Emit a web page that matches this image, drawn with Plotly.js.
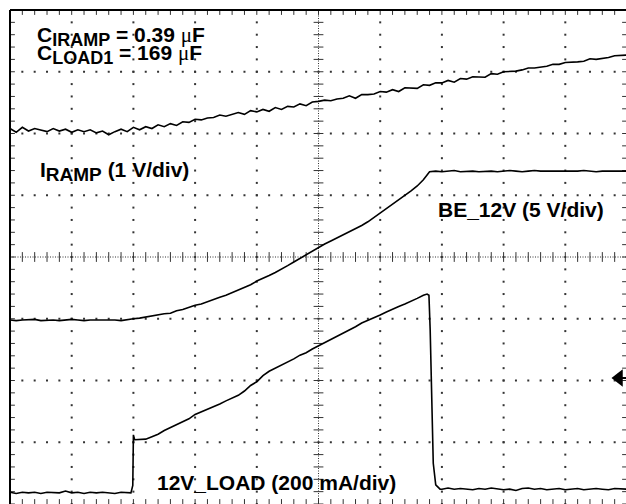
<!DOCTYPE html>
<html>
<head>
<meta charset="utf-8">
<script src="https://cdn.plot.ly/plotly-3.0.1.min.js"></script>
<style>
html,body{margin:0;padding:0;background:#fff;overflow:hidden;}
#chart{width:627px;height:504px;}
</style>
</head>
<body>
<div id="chart"></div>
<script>
// Time base in screen divisions (10 div across), vertical values in divisions (-4..4)
const timeDiv = [0.0,0.1,0.2,0.3,0.4,0.5,0.6,0.7,0.8,0.9,1.0,1.1,1.2,1.3,1.4,1.5,1.6,1.7,1.8,1.9,
  2.0,2.1,2.2,2.3,2.4,2.5,2.6,2.7,2.8,2.9,3.0,3.1,3.2,3.3,3.4,3.5,3.6,3.7,3.8,3.9,
  4.0,4.1,4.2,4.3,4.4,4.5,4.6,4.7,4.8,4.9,5.0,5.1,5.2,5.3,5.4,5.5,5.6,5.7,5.8,5.9,
  6.0,6.1,6.2,6.3,6.4,6.5,6.6,6.7,6.8,6.9,7.0,7.1,7.2,7.3,7.4,7.5,7.6,7.7,7.8,7.9,
  8.0,8.1,8.2,8.3,8.4,8.5,8.6,8.7,8.8,8.9,9.0,9.1,9.2,9.3,9.4,9.5,9.6,9.7,9.8,9.9,10.0];

// I_RAMP trace (1 V/div)
const irampDiv = [2.08,2.02,2.10,2.04,2.08,2.05,2.03,2.08,2.04,2.07,2.02,2.06,2.03,2.06,2.01,2.04,1.98,2.03,2.07,2.03,
  2.10,2.06,2.11,2.08,2.14,2.11,2.16,2.13,2.19,2.18,2.23,2.22,2.25,2.26,2.30,2.28,2.31,2.34,2.31,2.37,
  2.35,2.39,2.36,2.42,2.39,2.44,2.43,2.48,2.45,2.51,2.52,2.54,2.53,2.56,2.57,2.61,2.57,2.63,2.63,2.64,
  2.68,2.67,2.71,2.68,2.74,2.74,2.73,2.79,2.78,2.82,2.82,2.86,2.83,2.89,2.88,2.92,2.92,2.91,2.97,2.96,
  3.00,3.00,3.01,3.03,3.06,3.06,3.07,3.09,3.12,3.12,3.15,3.15,3.16,3.17,3.21,3.20,3.21,3.23,3.26,3.26,3.27];

// BE_12V trace (5 V/div)
const be12Div = [-1.02,-1.03,-1.02,-1.02,-1.01,-1.03,-1.02,-1.02,-1.03,-1.02,-1.01,-1.02,-1.03,-1.02,-1.02,-1.01,-1.02,-1.02,-1.03,-1.01,
  -1.00,-0.99,-0.97,-0.96,-0.94,-0.92,-0.91,-0.87,-0.85,-0.81,-0.78,-0.76,-0.72,-0.69,-0.65,-0.62,-0.58,-0.54,-0.49,-0.45,
  -0.39,-0.35,-0.30,-0.25,-0.20,-0.14,-0.08,-0.02,0.04,0.10,0.16,0.21,0.26,0.31,0.35,0.40,0.46,0.51,0.57,0.64,
  0.71,0.78,0.86,0.93,1.00,1.07,1.15,1.25,1.38,1.39,1.38,1.39,1.40,1.38,1.39,1.39,1.38,1.39,1.39,1.38,
  1.39,1.40,1.39,1.38,1.39,1.40,1.39,1.39,1.38,1.39,1.39,1.38,1.39,1.40,1.39,1.38,1.39,1.39,1.38,1.39,1.39];

// 12V_LOAD trace (200 mA/div)
const loadTime = [0.0,0.1,0.2,0.3,0.4,0.5,0.6,0.7,0.8,0.9,1.0,1.1,1.2,1.3,1.4,1.5,1.6,1.7,1.8,1.9,
  1.96,1.99,2.0,2.02,2.1,2.2,2.3,2.4,2.5,2.6,2.7,2.8,2.9,3.0,3.1,3.2,3.3,3.4,3.5,3.6,3.7,3.8,3.9,
  4.0,4.1,4.2,4.3,4.4,4.5,4.6,4.7,4.8,4.9,5.0,5.1,5.2,5.3,5.4,5.5,5.6,5.7,5.8,5.9,
  6.0,6.1,6.2,6.3,6.4,6.5,6.6,6.7,6.76,6.79,6.81,6.86,6.90,6.97,
  7.0,7.1,7.2,7.3,7.4,7.5,7.6,7.7,7.8,7.9,8.0,8.1,8.2,8.3,8.4,8.5,8.6,8.7,8.8,8.9,
  9.0,9.1,9.2,9.3,9.4,9.5,9.6,9.7,9.8,9.9,10.0];
const loadDiv = [-3.81,-3.83,-3.81,-3.82,-3.81,-3.83,-3.81,-3.82,-3.82,-3.79,-3.82,-3.81,-3.83,-3.81,-3.82,-3.81,-3.82,-3.83,-3.81,-3.82,
  -3.82,-3.70,-2.88,-2.96,-2.96,-2.95,-2.91,-2.87,-2.81,-2.76,-2.72,-2.66,-2.62,-2.55,-2.51,-2.46,-2.43,-2.38,-2.33,-2.28,-2.24,-2.17,-2.08,
  -2.02,-1.92,-1.85,-1.80,-1.76,-1.70,-1.65,-1.59,-1.55,-1.49,-1.44,-1.39,-1.33,-1.29,-1.24,-1.18,-1.13,-1.07,-1.03,-0.98,
  -0.94,-0.89,-0.84,-0.80,-0.76,-0.72,-0.67,-0.62,-0.60,-0.62,-1.18,-3.34,-3.69,-3.76,
  -3.76,-3.74,-3.76,-3.75,-3.76,-3.77,-3.75,-3.76,-3.74,-3.76,-3.77,-3.76,-3.78,-3.75,-3.74,-3.76,-3.75,-3.77,-3.76,-3.75,
  -3.77,-3.76,-3.75,-3.77,-3.76,-3.75,-3.76,-3.77,-3.75,-3.76,-3.76];

// Trigger level marker
const triggerTime = [9.87];
const triggerLevel = [-1.96];

// Labels
const labelTexts = [
  'C<sub><span style="font-size:18px">IRAMP</span></sub> = 0.39 <span style="font-family:\'Liberation Serif\';font-weight:normal">μ</span>F',
  'C<sub><span style="font-size:18px">LOAD1</span></sub> = 169 <span style="font-family:\'Liberation Serif\';font-weight:normal">μ</span>F',
  'I<sub><span style="font-size:19px">RAMP</span></sub> (1 V/div)',
  'BE_12V (5 V/div)',
  '12V_LOAD (200 mA/div)'
];
const labelX = [0.405, 0.405, 0.454, 6.904, 2.350];
const labelY = [3.563, 3.287, 1.377, 0.777, -3.652];

// ---- graticule (styling) ----
const gx=[], gy=[];
for (let i=1;i<=9;i++){ if(i===5) continue; for(let k=0;k<=40;k++){gx.push(i); gy.push(-4+k*0.2);} }
for (let j=-3;j<=3;j++){ if(j===0) continue; for(let k=0;k<=50;k++){gx.push(k*0.2); gy.push(j);} }
const hTickX=[], hTickY=[];
const vTickX=[], vTickY=[];
for(let k=0;k<=50;k++){ const x=k*0.2; hTickX.push(x,x,x); hTickY.push(0,4,-4); }
for(let k=0;k<=40;k++){ const y=-4+k*0.2; vTickX.push(5,0,10); vTickY.push(y,y,y); }

const gcol = '#333';
const traces = [
  {x:gx, y:gy, mode:'markers', type:'scatter', hoverinfo:'skip',
   marker:{symbol:'square', size:2, color:gcol, line:{width:0}}},
  {x:hTickX, y:hTickY, mode:'markers', type:'scatter', hoverinfo:'skip',
   marker:{symbol:'line-ns', size:7, color:gcol, line:{width:1, color:gcol}}},
  {x:vTickX, y:vTickY, mode:'markers', type:'scatter', hoverinfo:'skip',
   marker:{symbol:'line-ew', size:7, color:gcol, line:{width:1, color:gcol}}},
  {x:timeDiv, y:irampDiv, mode:'lines', type:'scatter', line:{color:'#000', width:1.6}},
  {x:timeDiv, y:be12Div, mode:'lines', type:'scatter', line:{color:'#000', width:1.6}},
  {x:loadTime, y:loadDiv, mode:'lines', type:'scatter', line:{color:'#000', width:1.6}},
  {x:[triggerTime[0], 10], y:[triggerLevel[0], triggerLevel[0]], mode:'lines', type:'scatter', line:{color:'#000', width:2}},
  {x:triggerTime, y:triggerLevel, mode:'markers', type:'scatter', cliponaxis:false,
   marker:{symbol:'triangle-left', size:15, color:'#000'}}
];

const font = {family:'Liberation Sans, Arial, sans-serif', size:21, color:'#000', weight:'bold'};
const annotations = labelTexts.map((t,i)=>({
  text:t, x:labelX[i], y:labelY[i], xref:'x', yref:'y', showarrow:false,
  xanchor:'left', yanchor:'middle', font:font
}));

const layout = {
  width:627, height:504,
  margin:{l:10, r:0, t:10, b:0, pad:0},
  paper_bgcolor:'#fff', plot_bgcolor:'#fff',
  showlegend:false,
  xaxis:{range:[0,10], visible:false, fixedrange:true},
  yaxis:{range:[-4,4], visible:false, fixedrange:true},
  annotations:annotations,
  shapes:[
    {type:'line', xref:'x', yref:'y', x0:0, x1:10, y0:0, y1:0, line:{color:gcol, width:1, dash:'1px,1.5px'}, layer:'below'},
    {type:'line', xref:'x', yref:'y', x0:5, x1:5, y0:-4, y1:4, line:{color:gcol, width:1, dash:'1px,1.5px'}, layer:'below'},
    {type:'line', xref:'paper', yref:'paper', x0:0, x1:1, y0:1, y1:1, line:{color:'#000', width:2}, layer:'above'},
    {type:'line', xref:'paper', yref:'paper', x0:0, x1:0, y0:0, y1:1, line:{color:'#000', width:2}, layer:'above'}
  ]
};

Plotly.newPlot('chart', traces, layout, {staticPlot:true, displayModeBar:false});
</script>
</body>
</html>
